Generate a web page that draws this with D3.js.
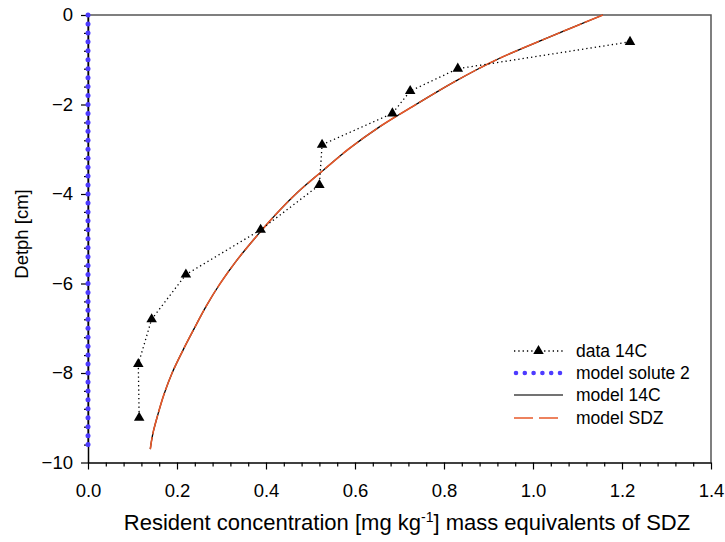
<!DOCTYPE html>
<html>
<head>
<meta charset="utf-8">
<script src="https://cdn.jsdelivr.net/npm/d3@7"></script>
<style>
  body { margin: 0; background: #fff; }
  svg { display: block; font-family: "Liberation Sans", Arial, sans-serif; }
</style>
</head>
<body>
<svg id="chart" width="725" height="542"></svg>
<script>
// Measured 14C depth profile
const dataDepth = [-0.6, -1.2, -1.7, -2.2, -2.9, -3.8, -4.8, -5.8, -6.8, -7.8, -9.0];
const dataConc  = [1.218, 0.831, 0.724, 0.684, 0.526, 0.52, 0.388, 0.22, 0.143, 0.113, 0.115];

// Model solute 2 (stays at zero over the whole column)
const solute2Depth = [0, -0.2, -0.4, -0.6, -0.8, -1.0, -1.2, -1.4, -1.6, -1.8,
  -2.0, -2.2, -2.4, -2.6, -2.8, -3.0, -3.2, -3.4, -3.6, -3.8,
  -4.0, -4.2, -4.4, -4.6, -4.8, -5.0, -5.2, -5.4, -5.6, -5.8,
  -6.0, -6.2, -6.4, -6.6, -6.8, -7.0, -7.2, -7.4, -7.6, -7.8,
  -8.0, -8.2, -8.4, -8.6, -8.8, -9.0, -9.2, -9.4, -9.6];
const solute2Conc = [0, 0, 0, 0, 0, 0, 0, 0, 0, 0,
  0, 0, 0, 0, 0, 0, 0, 0, 0, 0,
  0, 0, 0, 0, 0, 0, 0, 0, 0, 0,
  0, 0, 0, 0, 0, 0, 0, 0, 0, 0,
  0, 0, 0, 0, 0, 0, 0, 0, 0];

// Model profiles (14C and SDZ)
const modelDepth = [0, -0.5, -1, -1.5, -2, -2.5, -3, -3.5, -4, -4.5, -5, -5.5,
  -6, -6.5, -7, -7.5, -8, -8.5, -9, -9.3, -9.5, -9.7];
const model14C = [1.157, 1.035, 0.918, 0.822, 0.737, 0.655, 0.585, 0.525, 0.467, 0.418,
  0.374, 0.333, 0.297, 0.266, 0.239, 0.213, 0.189, 0.17, 0.155, 0.147, 0.143, 0.14];
const modelSDZ = [1.157, 1.035, 0.918, 0.822, 0.737, 0.655, 0.585, 0.525, 0.467, 0.418,
  0.374, 0.333, 0.297, 0.266, 0.239, 0.213, 0.189, 0.17, 0.155, 0.147, 0.143, 0.14];

// Axis ticks
const xTicks = [0.0, 0.2, 0.4, 0.6, 0.8, 1.0, 1.2, 1.4];
const xMinor = [0.04, 0.08, 0.12, 0.16, 0.24, 0.28, 0.32, 0.36, 0.44, 0.48, 0.52, 0.56,
  0.64, 0.68, 0.72, 0.76, 0.84, 0.88, 0.92, 0.96, 1.04, 1.08, 1.12, 1.16,
  1.24, 1.28, 1.32, 1.36];
const yTicks = [0, -2, -4, -6, -8, -10];
const yMinor = [-0.4, -0.8, -1.2, -1.6, -2.4, -2.8, -3.2, -3.6, -4.4, -4.8, -5.2, -5.6,
  -6.4, -6.8, -7.2, -7.6, -8.4, -8.8, -9.2, -9.6];

const legendLabels = ["data 14C", "model solute 2", "model 14C", "model SDZ"];

const blue = "#4d3bff";
const orange = "#e8592a";
const tickFont = 18.5;

const svg = d3.select("#chart");
const plotLeft = 88, plotRight = 711, plotTop = 15, plotBottom = 462.5;

const x = d3.scaleLinear().domain([0, 1.4]).range([plotLeft, plotRight]);
const y = d3.scaleLinear().domain([0, -10]).range([plotTop, plotBottom]);

// Frame: top and right edges
svg.append("path")
  .attr("d", `M${plotLeft},${plotTop}H${plotRight}V${plotBottom}`)
  .attr("fill", "none").attr("stroke", "#555").attr("stroke-width", 1.5);

// Bottom axis
const gx = svg.append("g").attr("transform", `translate(0,${plotBottom})`);
gx.call(d3.axisBottom(x).tickValues(xMinor).tickSize(4).tickFormat(""));
gx.call(g => g.select(".domain").remove());
const gx2 = svg.append("g").attr("transform", `translate(0,${plotBottom})`);
gx2.call(d3.axisBottom(x).tickValues(xTicks).tickSize(7).tickPadding(14)
  .tickFormat(d3.format(".1f")).tickSizeOuter(0));
gx2.select(".domain").attr("stroke", "#000").attr("stroke-width", 1.5);
gx2.selectAll("text").attr("font-size", tickFont).attr("fill", "#000")
  .attr("font-family", "Liberation Sans, Arial, sans-serif");

// Left axis
const gy = svg.append("g").attr("transform", `translate(${plotLeft},0)`);
gy.call(d3.axisLeft(y).tickValues(yMinor).tickSize(4).tickFormat(""));
gy.call(g => g.select(".domain").remove());
const gy2 = svg.append("g").attr("transform", `translate(${plotLeft},0)`);
gy2.call(d3.axisLeft(y).tickValues(yTicks).tickSize(7).tickPadding(8)
  .tickFormat(d3.format("d")).tickSizeOuter(0));
gy2.select(".domain").attr("stroke", "#000").attr("stroke-width", 1.5);
gy2.selectAll("text").attr("font-size", tickFont).attr("fill", "#000")
  .attr("font-family", "Liberation Sans, Arial, sans-serif");
svg.selectAll("g .tick line").attr("stroke", "#000").attr("stroke-width", 1.2);

// Axis titles
const xt = svg.append("text")
  .attr("x", 407).attr("y", 530)
  .attr("text-anchor", "middle").attr("font-size", 22).attr("fill", "#000");
xt.append("tspan").text("Resident concentration [mg kg");
xt.append("tspan").text("-1").attr("font-size", 14).attr("dy", -8.5);
xt.append("tspan").text("] mass equivalents of SDZ").attr("dy", 8.5);

svg.append("text")
  .attr("transform", "translate(28,234) rotate(-90)")
  .attr("text-anchor", "middle").attr("font-size", 18.5).attr("fill", "#000")
  .text("Detph [cm]");

// Model 14C (solid black)
const line14C = d3.line().x((d, i) => x(model14C[i])).y(d => y(d)).curve(d3.curveCatmullRom);
svg.append("path").datum(modelDepth)
  .attr("d", line14C).attr("fill", "none")
  .attr("stroke", "#000").attr("stroke-width", 1.3);

// Model SDZ (long orange dashes)
const lineSDZ = d3.line().x((d, i) => x(modelSDZ[i])).y(d => y(d)).curve(d3.curveCatmullRom);
svg.append("path").datum(modelDepth)
  .attr("d", lineSDZ).attr("fill", "none")
  .attr("stroke", orange).attr("stroke-width", 1.6)
  .attr("stroke-dasharray", "20,3");

// Model solute 2 (blue dots along zero)
const lineSol = d3.line().x((d, i) => x(solute2Conc[i])).y(d => y(d));
svg.append("path").datum(solute2Depth)
  .attr("d", lineSol).attr("fill", "none")
  .attr("stroke", "#000").attr("stroke-width", 1);
svg.append("g").selectAll("circle").data(solute2Depth).join("circle")
  .attr("cx", (d, i) => x(solute2Conc[i])).attr("cy", d => y(d))
  .attr("r", 2.5).attr("fill", blue);

// Measured 14C (dotted line with triangles)
const lineData = d3.line().x((d, i) => x(dataConc[i])).y(d => y(d));
svg.append("path").datum(dataDepth)
  .attr("d", lineData).attr("fill", "none")
  .attr("stroke", "#000").attr("stroke-width", 1.3)
  .attr("stroke-dasharray", "1.3,3");
const tri = d3.symbol().type(d3.symbolTriangle).size(48);
svg.append("g").selectAll("path").data(dataDepth).join("path")
  .attr("d", tri)
  .attr("transform", (d, i) => `translate(${x(dataConc[i])},${y(d)})`)
  .attr("fill", "#000");

// Legend
const legY = [351, 373, 395, 418];
const lx0 = 514, lx1 = 563, ltx = 576;
const leg = svg.append("g");
leg.append("line").attr("x1", lx0).attr("x2", lx1).attr("y1", legY[0]).attr("y2", legY[0])
  .attr("stroke", "#000").attr("stroke-width", 1.3).attr("stroke-dasharray", "1.3,3");
leg.append("path").attr("d", tri)
  .attr("transform", `translate(${(lx0 + lx1) / 2},${legY[0]})`).attr("fill", "#000");
leg.append("line").attr("x1", lx0 + 2).attr("x2", lx1 - 2).attr("y1", legY[1]).attr("y2", legY[1])
  .attr("stroke", blue).attr("stroke-width", 4.6).attr("stroke-linecap", "round")
  .attr("stroke-dasharray", "0,8.8");
leg.append("line").attr("x1", lx0).attr("x2", lx1).attr("y1", legY[2]).attr("y2", legY[2])
  .attr("stroke", "#444").attr("stroke-width", 1.5);
leg.append("line").attr("x1", lx0).attr("x2", lx1).attr("y1", legY[3]).attr("y2", legY[3])
  .attr("stroke", orange).attr("stroke-width", 1.5).attr("stroke-dasharray", "19,6");
leg.selectAll("text").data(legendLabels).join("text")
  .attr("x", ltx).attr("y", (d, i) => legY[i] + 6)
  .attr("font-size", 17.5).attr("fill", "#000").text(d => d);
</script>
</body>
</html>
